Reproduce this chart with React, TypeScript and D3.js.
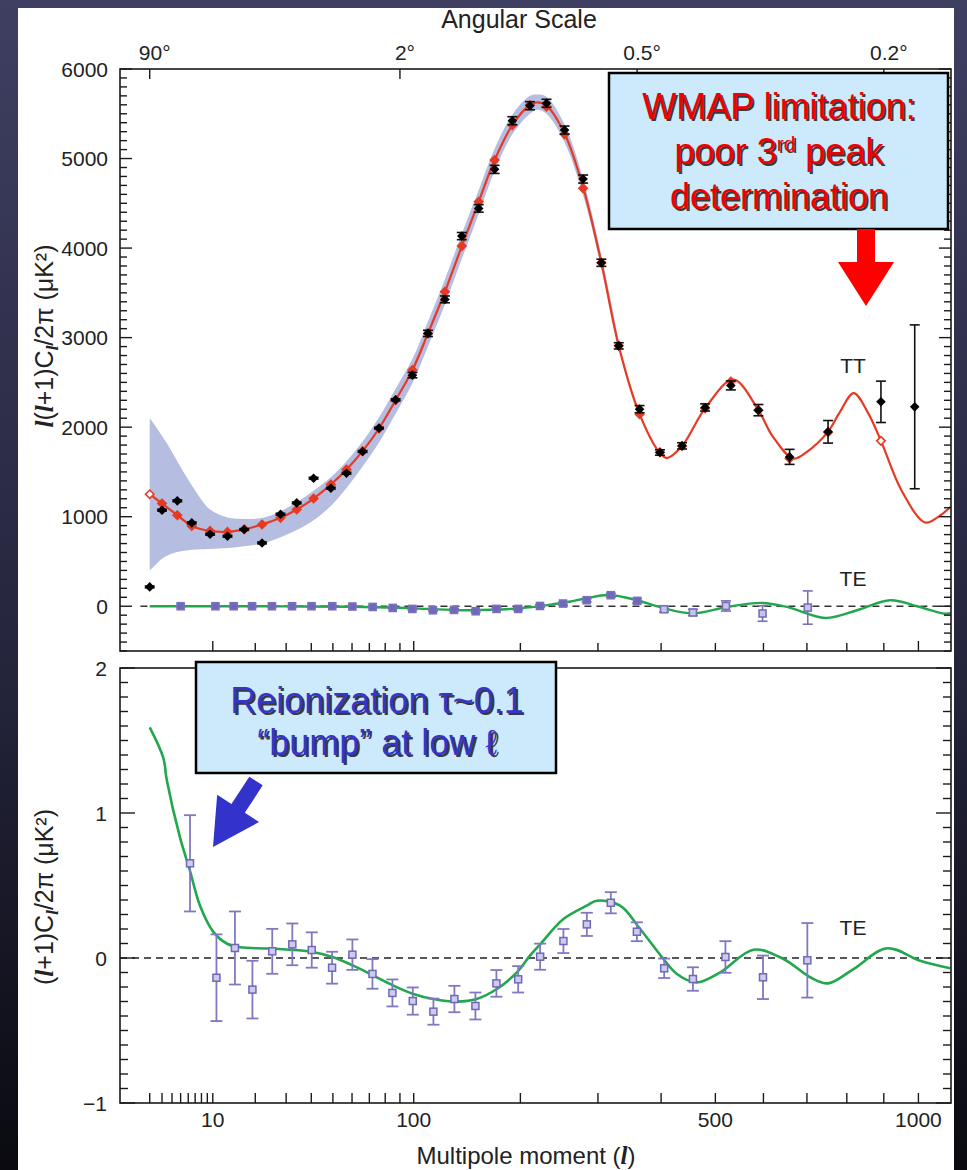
import React from "react";
import * as d3 from "d3";

const W = 967;
const H = 1170;
const SANS = "'Liberation Sans', Arial, Helvetica, sans-serif";
const SERIF = "'Liberation Serif', 'Times New Roman', serif";

// Multipole axis ticks and labels
const ellTicks = [2, 3, 4, 5, 6, 7, 8, 9, 10, 20, 30, 40, 50, 60, 70, 80, 90, 100, 200, 300, 400, 500, 600, 700, 800, 900, 1000];
const ellLabelTicks = [10, 100, 500, 1000];
// Angular scale on the top axis (theta ~ 180 deg / l)
const angleEll = [2, 90, 360, 900];
const angleText = ["90°", "2°", "0.5°", "0.2°"];
const ttLabelTicks = [0, 1000, 2000, 3000, 4000, 5000, 6000];
const teLabelTicks = [-1, 0, 1, 2];

// TT binned spectrum (uK^2)
const ttEll = [2, 3, 4.6, 6.5, 9.5, 13, 17, 22, 28, 34, 41, 49, 57, 66, 76, 87, 99, 111, 125, 140, 156, 172, 191, 211, 231, 254, 279, 305, 331, 364, 398, 437, 480, 531, 589, 659, 752, 892, 989];
const ttPower = [216, 1073, 1177, 931, 804, 782, 857, 707, 1028, 1154, 1430, 1318, 1486, 1728, 1989, 2305, 2581, 3047, 3427, 4134, 4443, 4879, 5422, 5590, 5617, 5318, 4771, 3836, 2908, 2201, 1717, 1791, 2220, 2466, 2190, 1668, 1948, 2283, 2227];
const ttErr = [10, 10, 10, 10, 10, 10, 10, 10, 10, 10, 10, 10, 10, 10, 10, 12, 30, 35, 38, 40, 42, 45, 45, 45, 45, 45, 45, 40, 35, 40, 30, 35, 40, 50, 63, 84, 126, 231, 915];
// Best-fit model averaged over the same bins (null where not drawn)
const ttModelBin = [1251, 1147, 1017, 897, 841, 830, 860, 913, 987, 1080, 1203, 1359, 1527, 1732, 1985, 2302, 2637, 3047, 3512, 4022, 4517, 4983, 5374, 5598, 5579, 5270, 4667, 3836, 2908, 2145, 1720, 1790, 2210, 2510, 2190, 1650, 1944, 1847, null];
const ttModelOpen = [true, false, false, false, false, false, false, false, false, false, false, false, false, false, false, false, false, false, false, false, false, false, false, false, false, false, false, false, false, false, false, false, false, false, false, false, false, true, false];

// Best-fit TT model curve
const ttTheoryEll = [2, 3, 4.6, 6.5, 9.5, 13, 17, 22, 28, 34, 41, 49, 57, 66, 76, 87, 99, 111, 125, 140, 156, 172, 191, 211, 220, 231, 254, 279, 305, 331, 364, 398, 410, 437, 480, 536, 589, 620, 668, 700, 751, 780, 818, 855, 892, 950, 1020, 1060, 1099];
const ttTheory = [1251, 1147, 1017, 897, 841, 830, 860, 913, 987, 1080, 1203, 1359, 1527, 1732, 1985, 2302, 2637, 3047, 3512, 4022, 4517, 4983, 5374, 5598, 5628, 5592, 5280, 4680, 3836, 2908, 2145, 1710, 1655, 1790, 2210, 2530, 2190, 1900, 1650, 1724, 1944, 2153, 2380, 2171, 1847, 1296, 935, 998, 1110];

// Cosmic variance band around the model
const cvEll = [2, 2.5, 3, 3.8, 4.6, 5.5, 6.5, 8, 9.5, 13, 17, 22, 28, 34, 41, 49, 57, 66, 76, 87, 99, 111, 125, 140, 156, 172, 191, 211, 220, 231, 254, 279, 305, 331];
const cvLow = [400, 470, 530, 580, 605, 620, 630, 636, 640, 650, 670, 700, 770, 850, 960, 1120, 1320, 1560, 1830, 2150, 2490, 2900, 3370, 3880, 4380, 4860, 5270, 5500, 5545, 5500, 5180, 4590, 3770, 2860];
const cvHigh = [2100, 2000, 1900, 1760, 1620, 1480, 1350, 1190, 1080, 990, 975, 985, 1060, 1160, 1290, 1440, 1620, 1840, 2110, 2430, 2760, 3180, 3650, 4160, 4650, 5110, 5490, 5700, 5715, 5690, 5380, 4770, 3920, 2970];

// TE in the upper panel, l(l+1)C/2pi units
const teTopEll = [5, 10.5, 14.4, 19.1, 25.1, 32.2, 40.1, 49.7, 60.2, 72, 85, 99, 115, 133, 153, 174, 197.5, 223, 252, 284, 319, 360, 405, 457, 521, 598, 702];
const teTopVal = [0, 0, 0, 0, 0, 0, 0, 0, -3, -8, -19, -30, -45, -41, -56, -30, -30, 3, 30, 67, 123, 60, -34, -70, 3, -81, -15];
const teTopErr = [6, 6, 6, 6, 6, 6, 6, 6, 6, 8, 8, 10, 10, 12, 12, 12, 14, 14, 16, 18, 22, 25, 30, 35, 57, 87, 186];
const teTopTheoryEll = [2, 10, 30, 60, 85, 110, 140, 170, 200, 230, 260, 282, 316, 360, 401, 457, 523, 596, 653, 745, 827, 918, 996, 1077, 1099];
const teTopTheory = [0, 0, -2, -6, -15, -30, -45, -40, -22, 10, 50, 86, 125, 67, -15, -80, -8, 37, -8, -131, -45, 67, 0, -82, -78];

// TE in the lower panel, (l+1)C/2pi units
const teEll = [6.25, 10.7, 14.7, 19.2, 25.2, 32.3, 40.2, 49.6, 60.2, 71.9, 84.8, 99.3, 115.4, 133.3, 152.8, 173.9, 197.5, 223.2, 252.5, 284.2, 319, 359.6, 405.3, 457, 520, 599, 701];
const teVal = [0.653, -0.136, 0.069, -0.218, 0.046, 0.094, 0.055, -0.067, 0.023, -0.11, -0.241, -0.297, -0.37, -0.283, -0.331, -0.175, -0.147, 0.009, 0.117, 0.232, 0.381, 0.181, -0.071, -0.145, 0.007, -0.133, -0.016];
const teErr = [0.332, 0.299, 0.252, 0.199, 0.155, 0.144, 0.122, 0.11, 0.105, 0.102, 0.093, 0.094, 0.09, 0.091, 0.093, 0.092, 0.091, 0.09, 0.083, 0.08, 0.073, 0.065, 0.067, 0.081, 0.109, 0.15, 0.257];
const teTheoryEll = [2, 3.12, 3.45, 4.93, 6.25, 7.77, 10.1, 12.83, 15.94, 24.5, 40, 50.2, 60.7, 72.5, 85.5, 99.7, 115.4, 135.5, 154, 174.3, 196, 211, 223, 252.5, 284, 298.4, 333.2, 364.9, 404.1, 427.7, 464.4, 509.5, 578.4, 645, 707.9, 752, 817.6, 908.7, 1005.5, 1098];
const teTheory = [1.59, 1.38, 1.23, 0.83, 0.6, 0.36, 0.18, 0.1, 0.074, 0.065, 0.043, 0.005, -0.053, -0.122, -0.191, -0.248, -0.283, -0.301, -0.283, -0.214, -0.099, 0.016, 0.093, 0.269, 0.361, 0.395, 0.361, 0.2, -0.007, -0.11, -0.168, -0.099, 0.057, -0.007, -0.133, -0.175, -0.076, 0.067, -0.019, -0.071];

const TOP = { left: 120, right: 951, top: 69, bottom: 651 };
const BOT = { left: 120, right: 951, top: 668, bottom: 1103 };

const diamond = (cx: number, cy: number, r: number) =>
  `M${cx},${cy - r}L${cx + r},${cy}L${cx},${cy + r}L${cx - r},${cy}Z`;

function Ell({ sub }: { sub?: boolean }) {
  return (
    <tspan fontFamily={SERIF} fontStyle="italic" fontWeight="bold" fontSize={sub ? 17 : 25} dy={sub ? 5 : 0}>
      l
    </tspan>
  );
}

export default function App() {
  const x = d3.scalePow().exponent(0.4).domain([0.5, 1100]).range([TOP.left, TOP.right]);
  const yTT = d3.scaleLinear().domain([-500, 6000]).range([TOP.bottom, TOP.top]);
  const yTE = d3.scaleLinear().domain([-1, 2]).range([BOT.bottom, BOT.top]);

  const smooth = d3.curveCatmullRom.alpha(0.5);
  const ttLine = d3.line<number>().x((_, i) => x(ttTheoryEll[i])).y((d) => yTT(d)).curve(smooth);
  const cvArea = d3
    .area<number>()
    .x((_, i) => x(cvEll[i]))
    .y0((d) => yTT(d))
    .y1((_, i) => yTT(cvHigh[i]))
    .curve(smooth);
  const teTopLine = d3.line<number>().x((_, i) => x(teTopTheoryEll[i])).y((d) => yTT(d)).curve(smooth);
  const teLine = d3.line<number>().x((_, i) => x(teTheoryEll[i])).y((d) => yTE(d)).curve(smooth);

  const ttMinor = d3.range(-5, 61).map((k) => k * 100);
  const teMinor = d3.range(-10, 21).map((k) => k / 10);
  const tickStroke = { stroke: "#1a1a1a", strokeWidth: 1.4 };

  // Blue arrow geometry (tail -> tip)
  const tail = [256, 781];
  const tip = [213, 847];
  const len = Math.hypot(tip[0] - tail[0], tip[1] - tail[1]);
  const ux = (tip[0] - tail[0]) / len;
  const uy = (tip[1] - tail[1]) / len;
  const px = -uy;
  const py = ux;
  const headLen = 46;
  const sw = 8;
  const hw = 25;
  const bx = tip[0] - ux * headLen;
  const by = tip[1] - uy * headLen;
  const blueArrow = [
    [tail[0] + px * sw, tail[1] + py * sw],
    [bx + px * sw, by + py * sw],
    [bx + px * hw, by + py * hw],
    [tip[0], tip[1]],
    [bx - px * hw, by - py * hw],
    [bx - px * sw, by - py * sw],
    [tail[0] - px * sw, tail[1] - py * sw],
  ]
    .map((p) => p.join(","))
    .join(" ");

  return (
    <div style={{ position: "absolute", left: 0, top: 0 }}>
      <svg width={W} height={H} viewBox={`0 0 ${W} ${H}`} style={{ display: "block" }}>
        <defs>
          <linearGradient id="edgeShade" x1="0" y1="0" x2="0" y2="1">
            <stop offset="0" stopColor="#3f3f62" />
            <stop offset="0.6" stopColor="#23233a" />
            <stop offset="1" stopColor="#0a0a10" />
          </linearGradient>
          <clipPath id="clipTop">
            <rect x={TOP.left} y={TOP.top} width={TOP.right - TOP.left} height={TOP.bottom - TOP.top} />
          </clipPath>
          <clipPath id="clipBot">
            <rect x={BOT.left} y={BOT.top} width={BOT.right - BOT.left} height={BOT.bottom - BOT.top} />
          </clipPath>
        </defs>

        <rect x={0} y={0} width={W} height={H} fill="url(#edgeShade)" />
        <rect x={18} y={8} width={936} height={H - 8} fill="#ffffff" />

        {/* ---------- Upper panel: TT and TE ---------- */}
        <g clipPath="url(#clipTop)">
          <path d={cvArea(cvLow) || ""} fill="#b5bde0" />
          <line x1={x(1.4)} x2={TOP.right} y1={yTT(0)} y2={yTT(0)} stroke="#333" strokeWidth={1.6} strokeDasharray="7 5" />
          <path d={ttLine(ttTheory) || ""} fill="none" stroke="#e63a24" strokeWidth={2.2} />
          <path d={teTopLine(teTopTheory) || ""} fill="none" stroke="#22a84c" strokeWidth={2.4} />

          {ttModelBin.map((v, i) =>
            v === null ? null : (
              <path
                key={`m${i}`}
                d={diamond(x(ttEll[i]), yTT(v), 4.2)}
                fill={ttModelOpen[i] ? "#fff" : "#e63a24"}
                stroke="#e63a24"
                strokeWidth={1.6}
              />
            )
          )}

          {teTopEll.map((l, i) => {
            const cx = x(l);
            const y1 = yTT(teTopVal[i] + teTopErr[i]);
            const y2 = yTT(teTopVal[i] - teTopErr[i]);
            const cy = yTT(teTopVal[i]);
            return (
              <g key={`tt${i}`} stroke="#7770bb" strokeWidth={1.6}>
                <line x1={cx} x2={cx} y1={y1} y2={y2} />
                <line x1={cx - 5} x2={cx + 5} y1={y1} y2={y1} />
                <line x1={cx - 5} x2={cx + 5} y1={y2} y2={y2} />
                <rect x={cx - 3.5} y={cy - 3.5} width={7} height={7} fill={i < 22 ? "#6f68b8" : "#c9c5e8"} />
              </g>
            );
          })}

          {ttEll.map((l, i) => {
            const cx = x(l);
            const cy = yTT(ttPower[i]);
            const y1 = yTT(ttPower[i] + ttErr[i]);
            const y2 = yTT(ttPower[i] - ttErr[i]);
            return (
              <g key={`t${i}`} stroke="#111" strokeWidth={1.6}>
                <line x1={cx} x2={cx} y1={y1} y2={y2} />
                <line x1={cx - 5} x2={cx + 5} y1={y1} y2={y1} />
                <line x1={cx - 5} x2={cx + 5} y1={y2} y2={y2} />
                <path d={diamond(cx, cy, 4.8)} fill="#000" stroke="none" />
              </g>
            );
          })}
        </g>

        {/* Upper panel frame and ticks */}
        <rect x={TOP.left} y={TOP.top} width={TOP.right - TOP.left} height={TOP.bottom - TOP.top} fill="none" stroke="#1a1a1a" strokeWidth={1.6} />
        {ttMinor.map((v) => {
          const major = v % 1000 === 0;
          const l = major ? 12 : 7;
          const yy = yTT(v);
          return (
            <g key={`ty${v}`} {...tickStroke}>
              <line x1={TOP.left} x2={TOP.left + l} y1={yy} y2={yy} />
              <line x1={TOP.right} x2={TOP.right - l} y1={yy} y2={yy} />
            </g>
          );
        })}
        {ellTicks
          .filter((l) => l >= 10)
          .map((l) => {
            const xx = x(l);
            const decade = l === 10 || l === 100 || l === 1000;
            return <line key={`tx${l}`} x1={xx} x2={xx} y1={TOP.bottom} y2={TOP.bottom - (decade ? 10 : 8)} {...tickStroke} />;
          })}
        {angleEll.map((l, i) => (
          <g key={`ang${l}`}>
            <line x1={x(l)} x2={x(l)} y1={TOP.top} y2={TOP.top + 10} {...tickStroke} />
            <text x={x(l) + 5} y={60} textAnchor="middle" fontFamily={SANS} fontSize={21} fill="#222">
              {angleText[i]}
            </text>
          </g>
        ))}
        {ttLabelTicks.map((v) => (
          <text key={`tl${v}`} x={108} y={yTT(v)} dy="0.36em" textAnchor="end" fontFamily={SANS} fontSize={21} fill="#222">
            {v}
          </text>
        ))}
        <text x={519} y={28} textAnchor="middle" fontFamily={SANS} fontSize={25} fill="#222">
          Angular Scale
        </text>
        <text transform={`translate(53,336) rotate(-90)`} textAnchor="middle" fontFamily={SANS} fontSize={25} fill="#222">
          <Ell />
          <tspan>(</tspan>
          <Ell />
          <tspan>+1)C</tspan>
          <Ell sub />
          <tspan dy={-5}>/2π (μK²)</tspan>
        </text>
        <text x={853} y={373} textAnchor="middle" fontFamily={SANS} fontSize={21} fill="#222">
          TT
        </text>
        <text x={853} y={586} textAnchor="middle" fontFamily={SANS} fontSize={21} fill="#222">
          TE
        </text>

        {/* ---------- Lower panel: TE ---------- */}
        <g clipPath="url(#clipBot)">
          <line x1={BOT.left} x2={BOT.right} y1={yTE(0)} y2={yTE(0)} stroke="#222" strokeWidth={1.6} strokeDasharray="7 5" />
          <path d={teLine(teTheory) || ""} fill="none" stroke="#22a84c" strokeWidth={2.6} />
          {teEll.map((l, i) => {
            const cx = x(l);
            const cy = yTE(teVal[i]);
            const y1 = yTE(teVal[i] + teErr[i]);
            const y2 = yTE(teVal[i] - teErr[i]);
            return (
              <g key={`te${i}`} stroke="#7f79c0" strokeWidth={1.8}>
                <line x1={cx} x2={cx} y1={y1} y2={y2} />
                <line x1={cx - 6} x2={cx + 6} y1={y1} y2={y1} />
                <line x1={cx - 6} x2={cx + 6} y1={y2} y2={y2} />
                <rect x={cx - 3.5} y={cy - 3.5} width={7} height={7} fill="#cfcbea" stroke="#6f68b8" strokeWidth={1.5} />
              </g>
            );
          })}
        </g>

        <rect x={BOT.left} y={BOT.top} width={BOT.right - BOT.left} height={BOT.bottom - BOT.top} fill="none" stroke="#1a1a1a" strokeWidth={1.6} />
        {teMinor.map((v, k) => {
          const major = k % 10 === 0;
          const l = major ? 15 : 8;
          const yy = yTE(v);
          return (
            <g key={`by${k}`} {...tickStroke}>
              <line x1={BOT.left} x2={BOT.left + l} y1={yy} y2={yy} />
              <line x1={BOT.right} x2={BOT.right - l} y1={yy} y2={yy} />
            </g>
          );
        })}
        {ellTicks.map((l) => (
          <line key={`bx${l}`} x1={x(l)} x2={x(l)} y1={BOT.bottom} y2={BOT.bottom - 10} {...tickStroke} />
        ))}
        {ellLabelTicks.map((l) => (
          <text key={`bl${l}`} x={x(l)} y={1127} textAnchor="middle" fontFamily={SANS} fontSize={21} fill="#222">
            {l}
          </text>
        ))}
        {teLabelTicks.map((v) => (
          <text key={`bt${v}`} x={107} y={yTE(v)} dy="0.36em" textAnchor="end" fontFamily={SANS} fontSize={21} fill="#222">
            {v < 0 ? `−${Math.abs(v)}` : v}
          </text>
        ))}
        <text x={526} y={1164} textAnchor="middle" fontFamily={SANS} fontSize={24} fill="#222">
          <tspan>Multipole moment (</tspan>
          <Ell />
          <tspan fontFamily={SANS}>)</tspan>
        </text>
        <text transform={`translate(53,897) rotate(-90)`} textAnchor="middle" fontFamily={SANS} fontSize={25} fill="#222">
          <tspan>(</tspan>
          <Ell />
          <tspan>+1)C</tspan>
          <Ell sub />
          <tspan dy={-5}>/2π (μK²)</tspan>
        </text>
        <text x={853} y={935} textAnchor="middle" fontFamily={SANS} fontSize={21} fill="#222">
          TE
        </text>

        {/* ---------- Annotations ---------- */}
        <rect x={609} y={73} width={339} height={156} fill="#cdeafc" stroke="#000" strokeWidth={2.5} />
        {[0, 1].map((s) => (
          <g
            key={`wm${s}`}
            fontFamily={SANS}
            fontSize={36}
            textAnchor="middle"
            fill={s === 0 ? "#3a3a3a" : "#ee0000"}
            transform={s === 0 ? "translate(2,2)" : undefined}
          >
            <text x={779} y={119}>WMAP limitation:</text>
            <text x={779} y={164}>
              poor 3<tspan fontSize={21} dy={-13}>rd</tspan>
              <tspan dy={13}> peak</tspan>
            </text>
            <text x={779} y={209}>determination</text>
          </g>
        ))}
        <polygon points="857,229 875,229 875,262 894,262 866,306 838,262 857,262" fill="#ff0000" />

        <rect x={196} y={662} width={360} height={111} fill="#cdeafc" stroke="#000" strokeWidth={2.5} />
        {[0, 1].map((s) => (
          <g
            key={`re${s}`}
            fontFamily={SANS}
            fontSize={36}
            textAnchor="middle"
            fill={s === 0 ? "#3a3a3a" : "#3535c8"}
            transform={s === 0 ? "translate(2,2)" : undefined}
          >
            <text x={377} y={713}>Reionization τ~0.1</text>
            <text x={377} y={755}>“bump” at low ℓ</text>
          </g>
        ))}
        <polygon points={blueArrow} fill="#3333cc" />
      </svg>
    </div>
  );
}
